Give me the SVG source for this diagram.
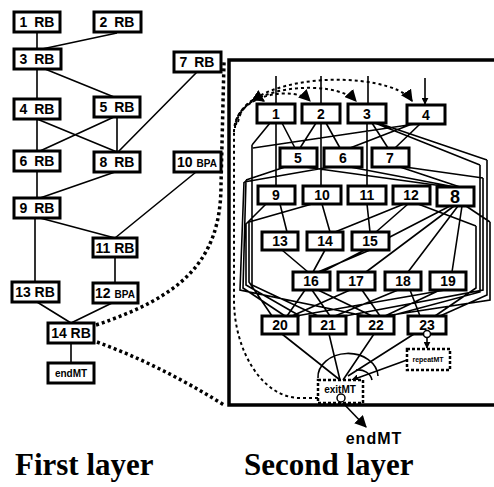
<svg xmlns="http://www.w3.org/2000/svg" width="494" height="487" viewBox="0 0 494 487">
<style>
.b{fill:#fff;stroke:#000;stroke-width:3}
.t{font-family:"Liberation Sans",Arial,sans-serif;font-weight:bold;font-size:14px;text-anchor:middle;fill:#000}
.e{fill:none;stroke:#000;stroke-width:1.6}
.d{fill:none;stroke:#000;stroke-width:3.5;stroke-dasharray:3 3}
.di{fill:none;stroke:#000;stroke-width:2;stroke-dasharray:3 3}
.db{fill:#fff;stroke:#000;stroke-width:2.5;stroke-dasharray:3 2}
.cap{font-family:"Liberation Serif","Times New Roman",serif;font-weight:bold;font-size:31px;fill:#000}
</style>
<defs>
<marker id="ah" viewBox="0 0 10 10" refX="9" refY="5" markerWidth="7" markerHeight="7" markerUnits="userSpaceOnUse" orient="auto"><path d="M0 0L10 5L0 10z" fill="#000"/></marker>
<marker id="ahd" viewBox="0 0 10 10" refX="9" refY="5" markerWidth="12" markerHeight="12" markerUnits="userSpaceOnUse" orient="auto"><path d="M0 0L10 5L0 10z" fill="#000"/></marker>
</defs>
<rect width="494" height="487" fill="#fff"/>

<!-- first layer connectors -->
<g id="connectors-first">
<path class="e" d="M37 32V49M117 33L42 49M37 69V99M45 69L114 97M37 119V151M37 119L117 152M114 117L40 151M117 117V152M197 72L118 152M37 171V198M115 172L40 198M40 218L115 238M196 172L115 238M35 218V282M115 257V283M37 302L71 323M112 303L71 323M71 343V363" stroke-width="2"/>
<path class="d" d="M96 325C180 297 221 262 221 185L224 62"/>
<path class="d" d="M97 342Q160 365 224 405"/>
</g>

<g id="n1"><rect class="b" x="14" y="12" width="46" height="20"/><text class="t" x="37" y="27" word-spacing="3">1 RB</text></g>
<g id="n2"><rect class="b" x="94" y="12" width="47" height="20"/><text class="t" x="117" y="27" word-spacing="3">2 RB</text></g>
<g id="n3"><rect class="b" x="14" y="49" width="47" height="20"/><text class="t" x="37" y="64" word-spacing="3">3 RB</text></g>
<g id="n7"><rect class="b" x="174" y="52" width="47" height="20"/><text class="t" x="197" y="67" word-spacing="3">7 RB</text></g>
<g id="n4"><rect class="b" x="14" y="99" width="46" height="20"/><text class="t" x="37" y="114" word-spacing="3">4 RB</text></g>
<g id="n5"><rect class="b" x="94" y="97" width="46" height="20"/><text class="t" x="117" y="112" word-spacing="3">5 RB</text></g>
<g id="n6"><rect class="b" x="14" y="151" width="46" height="20"/><text class="t" x="37" y="166" word-spacing="3">6 RB</text></g>
<g id="n8"><rect class="b" x="94" y="152" width="46" height="20"/><text class="t" x="117" y="167" word-spacing="3">8 RB</text></g>
<g id="n10"><rect class="b" x="174" y="152" width="47" height="20"/><text class="t" x="197" y="167">10 <tspan style="font-size:10px">BPA</tspan></text></g>
<g id="n9"><rect class="b" x="14" y="198" width="46" height="20"/><text class="t" x="37" y="213" word-spacing="3">9 RB</text></g>
<g id="n11"><rect class="b" x="93" y="238" width="44" height="19"/><text class="t" x="115" y="253">11 RB</text></g>
<g id="n13"><rect class="b" x="12" y="282" width="47" height="20"/><text class="t" x="35" y="297">13 RB</text></g>
<g id="n12"><rect class="b" x="93" y="283" width="45" height="20"/><text class="t" x="115" y="298">12 <tspan style="font-size:10px">BPA</tspan></text></g>
<g id="n14"><rect class="b" x="48" y="323" width="46" height="20"/><text class="t" x="71" y="338">14 RB</text></g>
<g id="nend"><rect class="b" x="48" y="363" width="46" height="20"/><text class="t" x="71" y="377" style="font-size:10px">endMT</text></g>

<!-- second layer frame -->
<path d="M494 60H229V405H494" fill="none" stroke="#000" stroke-width="3.5"/>

<g id="connectors-second">
<path class="e" d="M276 76V103M321 76V103M368 76V103M425 78V104" marker-end="url(#ah)"/>
<path class="di" d="M318 398H300C262 398 234 350 234 300V130"/>
<path class="di" d="M234 132C234 70 390 68 412 101" marker-end="url(#ahd)"/>
<path class="di" d="M235 128C236 84 335 78 356 101" marker-end="url(#ahd)"/>
<path class="di" d="M236 125C240 93 295 86 310 101" marker-end="url(#ahd)"/>
<path class="di" d="M238 122C242 104 255 95 264 101" marker-end="url(#ahd)"/>
<path class="e" d="M276 123V186M321 123V186M367 123V186
M282 123L295 148M270 123L252 145M316 123L300 148M326 123L340 148M372 123L388 148M378 123L487 160M375 123L480 165M420 124L395 148M415 124L253 148M412 124L350 148
M285 167L246 180M305 167L450 187M350 167L455 187M330 167L244 182M400 167L460 187M405 167L483 178
M280 204L287 232M266 204L246 224M322 204L330 232M312 204L249 222M367 204L370 232M404 204L335 232M408 204L376 232M418 204L476 226M450 206L322 272M454 206L366 272M458 206L408 272M462 206L452 272M466 206L490 222
M282 250L308 272M325 250L313 272M370 250L318 272
M305 290L287 316M312 290L330 316M318 290L372 316M350 290L292 316M362 290L380 316M398 290L335 316M410 290L420 316M440 290L385 316M445 290L296 316
M252 145V285L318 316M246 180L243 288L285 316M244 182L240 290L365 316M246 224V285L300 316M249 222V282L272 316
M487 160V295L440 316M480 165V292L390 316M483 178V290L345 316M476 226V288L435 316M490 222V300L385 316"/>
<path class="e" d="M282 334L340 380M329 334L340 380M374 334L343 380M414 334L348 376M407 360L352 380" marker-end="url(#ah)"/>
<path class="e" d="M318 378A28 22 0 0 1 378 376M356 370A14 12 0 0 1 372 380"/>
<path class="e" d="M427 338V348" marker-end="url(#ah)"/>
<path class="e" d="M342 402L366 427" stroke-width="2" marker-end="url(#ahd)"/>
</g>

<g id="s1"><rect class="b" x="257" y="104" width="38" height="19"/><text class="t" x="276" y="119">1</text></g>
<g id="s2"><rect class="b" x="302" y="104" width="38" height="19"/><text class="t" x="321" y="119">2</text></g>
<g id="s3"><rect class="b" x="348" y="104" width="38" height="19"/><text class="t" x="367" y="119">3</text></g>
<g id="s4"><rect class="b" x="407" y="105" width="38" height="19"/><text class="t" x="426" y="120">4</text></g>
<g id="s5"><rect class="b" x="280" y="148" width="37" height="19"/><text class="t" x="298" y="163">5</text></g>
<g id="s6"><rect class="b" x="324" y="148" width="38" height="19"/><text class="t" x="343" y="163">6</text></g>
<g id="s7"><rect class="b" x="372" y="148" width="37" height="19"/><text class="t" x="390" y="163">7</text></g>
<g id="s9"><rect class="b" x="258" y="186" width="37" height="18"/><text class="t" x="276" y="200">9</text></g>
<g id="s10"><rect class="b" x="303" y="186" width="38" height="18"/><text class="t" x="322" y="200">10</text></g>
<g id="s11"><rect class="b" x="348" y="186" width="38" height="18"/><text class="t" x="367" y="200">11</text></g>
<g id="s12"><rect class="b" x="393" y="186" width="37" height="18"/><text class="t" x="411" y="200">12</text></g>
<g id="s8"><rect class="b" x="437" y="187" width="37" height="19"/><text class="t" x="455" y="203" style="font-size:18px">8</text></g>
<g id="s13"><rect class="b" x="262" y="232" width="36" height="18"/><text class="t" x="280" y="246">13</text></g>
<g id="s14"><rect class="b" x="307" y="232" width="36" height="18"/><text class="t" x="325" y="246">14</text></g>
<g id="s15"><rect class="b" x="352" y="232" width="37" height="18"/><text class="t" x="370" y="246">15</text></g>
<g id="s16"><rect class="b" x="293" y="272" width="37" height="18"/><text class="t" x="311" y="286">16</text></g>
<g id="s17"><rect class="b" x="338" y="272" width="37" height="18"/><text class="t" x="356" y="286">17</text></g>
<g id="s18"><rect class="b" x="385" y="272" width="36" height="18"/><text class="t" x="403" y="286">18</text></g>
<g id="s19"><rect class="b" x="430" y="272" width="36" height="18"/><text class="t" x="448" y="286">19</text></g>
<g id="s20"><rect class="b" x="262" y="316" width="36" height="18"/><text class="t" x="280" y="330">20</text></g>
<g id="s21"><rect class="b" x="310" y="316" width="36" height="18"/><text class="t" x="328" y="330">21</text></g>
<g id="s22"><rect class="b" x="358" y="316" width="36" height="18"/><text class="t" x="376" y="330">22</text></g>
<g id="s23"><rect class="b" x="408" y="316" width="38" height="18"/><text class="t" x="427" y="330">23</text><circle cx="427" cy="334" r="3.5" fill="#fff" stroke="#000" stroke-width="1.5"/></g>
<g id="repeatMT"><rect class="db" x="407" y="349" width="43" height="21"/><text class="t" x="428" y="362" style="font-size:7px">repeatMT</text></g>
<g id="exitMT"><rect class="db" x="318" y="380" width="45" height="23"/><text class="t" x="340" y="393" style="font-size:10px">exitMT</text><circle cx="341" cy="398" r="4" fill="#fff" stroke="#000" stroke-width="1.5"/></g>

<text class="t" x="374" y="444" style="font-size:16px" letter-spacing="1">endMT</text>
<text class="cap" x="15" y="475">First layer</text>
<text class="cap" x="244" y="475">Second layer</text>
</svg>
